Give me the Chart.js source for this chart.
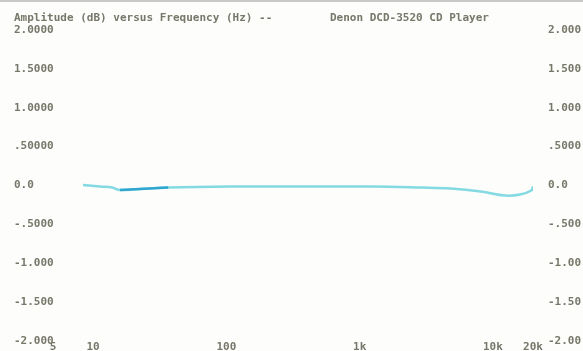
<!DOCTYPE html>
<html>
<head>
<meta charset="utf-8">
<script src="https://cdn.jsdelivr.net/npm/chart.js@4/dist/chart.umd.min.js"></script>
<style>
  html, body { margin: 0; padding: 0; background: #fdfdfb; }
  canvas { display: block; }
</style>
</head>
<body>
<canvas id="c" width="583" height="351"></canvas>
<script>
// ---- data ----
const titleLeft = "Amplitude (dB) versus Frequency (Hz) --";
const titleRight = "Denon DCD-3520 CD Player";

const xTickValues = [5, 10, 100, 1000, 10000, 20000];
const xTickLabels = ["5", "10", "100", "1k", "10k", "20k"];

const yTickValues = [2, 1.5, 1, 0.5, 0, -0.5, -1, -1.5, -2];
const yLeftLabels = ["2.0000", "1.5000", "1.0000", ".50000", "0.0", "-.5000", "-1.000", "-1.500", "-2.000"];
const yRightLabels = ["2.000", "1.500", "1.000", ".5000", "0.0", "-.500", "-1.00", "-1.50", "-2.00"];

// main (light cyan) trace
const freqs  = [8.4, 11.3, 13.9, 15.9, 22.5, 36.6, 107, 360, 1210, 2870, 4830, 8130, 12400, 16000, 19400, 20000];
const levels = [0.006, -0.013, -0.026, -0.058, -0.045, -0.026, -0.013, -0.013, -0.013, -0.026, -0.039, -0.077, -0.129, -0.116, -0.064, -0.013];

// short darker segment
const darkFreqs  = [15.9, 22.5, 36.6];
const darkLevels = [-0.058, -0.045, -0.026];

const toPoints = (xs, ys) => xs.map((x, i) => ({ x: x, y: ys[i] }));

const textColor = "#77776a";
const monoFont = { family: "'DejaVu Sans Mono', monospace", size: 11, weight: 'bold' };

const titlePlugin = {
  id: 'titleText',
  afterDraw(chart) {
    const ctx = chart.ctx;
    ctx.save();
    ctx.font = "bold 11px 'DejaVu Sans Mono', monospace";
    ctx.fillStyle = textColor;
    ctx.textBaseline = 'middle';
    ctx.textAlign = 'left';
    ctx.fillText(titleLeft, 14, 18);
    ctx.fillText(titleRight, 330, 18);
    ctx.restore();
  }
};

const bgPlugin = {
  id: 'bg',
  beforeDraw(chart) {
    const ctx = chart.ctx;
    ctx.save();
    ctx.fillStyle = '#fdfdfb';
    ctx.fillRect(0, 0, chart.width, chart.height);
    ctx.fillStyle = '#c8c8c4';
    ctx.fillRect(0, 0, chart.width, 2);
    ctx.restore();
  }
};

new Chart(document.getElementById('c'), {
  type: 'line',
  data: {
    datasets: [
      {
        data: toPoints(darkFreqs, darkLevels),
        borderColor: '#2fa6cf',
        borderWidth: 2.5,
        pointRadius: 0,
        tension: 0.4,
        yAxisID: 'y'
      },
      {
        data: toPoints(freqs, levels),
        borderColor: 'rgba(110, 212, 222, 0.85)',
        borderWidth: 2.5,
        pointRadius: 0,
        tension: 0.4,
        yAxisID: 'y'
      }
    ]
  },
  options: {
    responsive: false,
    animation: false,
    layout: { padding: { left: 14, top: 30, right: 0, bottom: 0 } },
    plugins: { legend: { display: false }, tooltip: { enabled: false }, title: { display: false } },
    scales: {
      x: {
        type: 'logarithmic',
        min: 5,
        max: 20000,
        afterBuildTicks: (s) => { s.ticks = xTickValues.map(v => ({ value: v })); },
        afterFit: (s) => { s.height = 10; },
        grid: { display: false, drawTicks: false },
        border: { display: false },
        ticks: {
          padding: 0,
          maxRotation: 0,
          autoSkip: false,
          color: textColor,
          font: monoFont,
          callback: (v) => { const i = xTickValues.indexOf(v); return i >= 0 ? xTickLabels[i] : ''; }
        }
      },
      y: {
        position: 'left',
        min: -2,
        max: 2,
        afterBuildTicks: (s) => { s.ticks = yTickValues.map(v => ({ value: v })); },
        afterFit: (s) => { s.width = 39; },
        grid: { display: false, drawTicks: false },
        border: { display: false },
        ticks: {
          crossAlign: 'far',
          padding: 0,
          autoSkip: false,
          color: textColor,
          font: monoFont,
          callback: (v) => { const i = yTickValues.indexOf(v); return i >= 0 ? yLeftLabels[i] : ''; }
        }
      },
      y2: {
        position: 'right',
        min: -2,
        max: 2,
        afterBuildTicks: (s) => { s.ticks = yTickValues.map(v => ({ value: v })); },
        afterFit: (s) => { s.width = 50; },
        grid: { display: true, drawOnChartArea: false, drawTicks: true, tickLength: 15, tickColor: 'rgba(0,0,0,0)', color: 'rgba(0,0,0,0)' },
        border: { display: false },
        ticks: {
          padding: 0,
          autoSkip: false,
          color: textColor,
          font: monoFont,
          callback: (v) => { const i = yTickValues.indexOf(v); return i >= 0 ? yRightLabels[i] : ''; }
        }
      }
    }
  },
  plugins: [bgPlugin, titlePlugin]
});
</script>
</body>
</html>
